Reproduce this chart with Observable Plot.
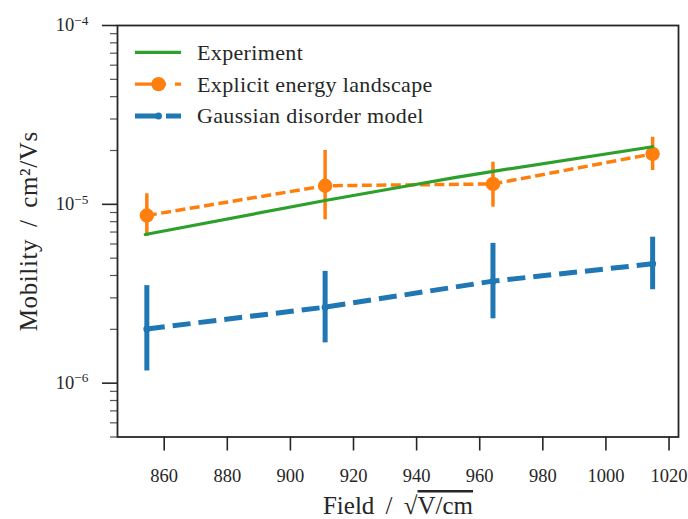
<!DOCTYPE html>
<html><head><meta charset="utf-8">
<script src="https://cdn.jsdelivr.net/npm/d3@7"></script>
<script src="https://cdn.jsdelivr.net/npm/@observablehq/plot@0.6"></script>
<style>
body{margin:0;background:#fff;}
#chart{width:688px;height:519px;}
</style></head><body><div id="chart"></div>
<script>
// Simulation fields (sqrt(V/cm))
const fields = [854.5, 911.0, 964.2, 1014.8];
// Explicit energy landscape
const explicitMobility = [8.66e-6, 1.27e-5, 1.30e-5, 1.915e-5];
const explicitLow = [6.6e-6, 8.19e-6, 9.64e-6, 1.545e-5];
const explicitHigh = [1.146e-5, 2.0e-5, 1.72e-5, 2.37e-5];
// Gaussian disorder model
const gdmMobility = [2.01e-6, 2.66e-6, 3.72e-6, 4.65e-6];
const gdmLow = [1.17e-6, 1.68e-6, 2.29e-6, 3.33e-6];
const gdmHigh = [3.51e-6, 4.22e-6, 6.05e-6, 6.55e-6];
// Experiment
const expFields = [854.0, 911.0, 940.5, 952.0, 964.3, 1014.8];
const expMobility = [6.78e-6, 1.05e-5, 1.30e-5, 1.41e-5, 1.53e-5, 2.10e-5];
// Ticks
const xTicks = [860, 880, 900, 920, 940, 960, 980, 1000, 1020];
const yTickExponents = [-6, -5, -4];
const yMinorTicks = [5e-7, 6e-7, 7e-7, 8e-7, 9e-7, 2e-6, 3e-6, 4e-6, 5e-6, 6e-6, 7e-6, 8e-6, 9e-6, 2e-5, 3e-5, 4e-5, 5e-5, 6e-5, 7e-5, 8e-5, 9e-5];
// Legend & labels
const seriesNames = ["Experiment", "Explicit energy landscape", "Gaussian disorder model"];
const seriesColors = ["#2ca02c", "#ff7f0e", "#1f77b4"];
const xLabel = "Field / \u221AV/cm";
const yLabel = "Mobility / cm\u00B2/Vs";

const exp = expFields.map((f, i) => ({field: f, mobility: expMobility[i]}));
const explicit = fields.map((f, i) => ({field: f, mobility: explicitMobility[i], low: explicitLow[i], high: explicitHigh[i]}));
const gdm = fields.map((f, i) => ({field: f, mobility: gdmMobility[i], low: gdmLow[i], high: gdmHigh[i]}));
const yTicks = yTickExponents.map(e => Math.pow(10, e));

const ink = "#262626";
const svg = Plot.plot({
  width: 688, height: 519,
  marginLeft: 117, marginRight: 10, marginTop: 25, marginBottom: 82.5,
  style: {fontFamily: "'Liberation Serif', serif", fontSize: "18px", color: ink, background: "#fff"},
  x: {domain: [845.2, 1023.0]},
  y: {type: "log", domain: [5e-7, 1e-4]},
  marks: [
    Plot.axisX(xTicks, {tickSize: 14, tickPadding: 18, fontSize: 18.5, stroke: ink, strokeWidth: 1.6, label: null, tickFormat: d => String(d)}),
    Plot.axisY(yMinorTicks, {tickSize: 7, strokeWidth: 1.2, stroke: "#555", label: null, tickFormat: () => ""}),
    Plot.axisY(yTicks, {tickSize: 15, tickPadding: 14, fontSize: 18.5, stroke: ink, strokeWidth: 1.6, label: null,
      tickFormat: d => "10^" + Math.round(Math.log10(d))}),
    Plot.ruleX(gdm, {x: "field", y1: "low", y2: "high", stroke: seriesColors[2], strokeWidth: 5}),
    Plot.line(gdm, {x: "field", y: "mobility", stroke: seriesColors[2], strokeWidth: 5, strokeDasharray: "18,8", strokeLinecap: "butt"}),
    Plot.dot(gdm, {x: "field", y: "mobility", r: 3.5, fill: seriesColors[2]}),
    Plot.ruleX(explicit, {x: "field", y1: "low", y2: "high", stroke: seriesColors[1], strokeWidth: 3.5}),
    Plot.line(explicit, {x: "field", y: "mobility", stroke: seriesColors[1], strokeWidth: 3.5, strokeDasharray: "10,4.5", strokeLinecap: "butt"}),
    Plot.dot(explicit, {x: "field", y: "mobility", r: 7.2, fill: seriesColors[1]}),
    Plot.line(exp, {x: "field", y: "mobility", stroke: seriesColors[0], strokeWidth: 3.2, strokeLinecap: "round"}),
    Plot.frame({stroke: ink, strokeWidth: 1.8}),
    Plot.text([xLabel], {frameAnchor: "bottom", dy: 77, lineAnchor: "bottom", textAnchor: "middle", fontSize: 25, fill: ink}),
    Plot.text([yLabel], {frameAnchor: "left", dx: -89, rotate: -90, textAnchor: "middle", fontSize: 25, fill: ink})
  ]
});

// superscript tick labels, sqrt overline, label spacing
d3.select(svg).selectAll("text").each(function() {
  const t = this.textContent;
  const sel = d3.select(this);
  if (t.startsWith("10^")) {
    const e = t.slice(3).replace("-", "\u2212");
    sel.text(null);
    sel.append("tspan").text("10");
    sel.append("tspan").attr("dy", "-0.5em").attr("font-size", "0.72em").text(e);
  } else if (t === xLabel) {
    sel.text(null).attr("word-spacing", "5px");
    sel.append("tspan").text("Field / \u221A");
    sel.append("tspan").attr("text-decoration", "overline").text("V/cm");
  } else if (t === yLabel) {
    sel.attr("word-spacing", "5px").attr("letter-spacing", "0.6px");
  }
});

// legend inside the frame, top-left
const lg = d3.select(svg).append("g").attr("transform", "translate(135,52.3)");
const rows = lg.selectAll("g").data(seriesNames).join("g").attr("transform", (d, i) => `translate(0,${i * 31.8})`);
rows.append("line").attr("x1", 0).attr("x2", 46).attr("y1", 0).attr("y2", 0)
  .attr("stroke", (d, i) => seriesColors[i])
  .attr("stroke-width", (d, i) => i === 2 ? 5 : 3.2)
  .attr("stroke-dasharray", (d, i) => i === 0 ? null : i === 1 ? "31,9,6" : "25,6,16");
rows.filter((d, i) => i > 0).append("circle").attr("cx", 23.5).attr("cy", 0)
  .attr("r", (d, i) => i === 0 ? 7.2 : 3.5).attr("fill", (d, i) => seriesColors[i + 1]);
rows.append("text").attr("x", 62).attr("y", 0).attr("dy", "0.34em").attr("text-anchor", "start")
  .attr("font-size", 22).attr("letter-spacing", "0.35px").attr("fill", ink).text(d => d);

document.getElementById("chart").appendChild(svg);
</script>
</body></html>
